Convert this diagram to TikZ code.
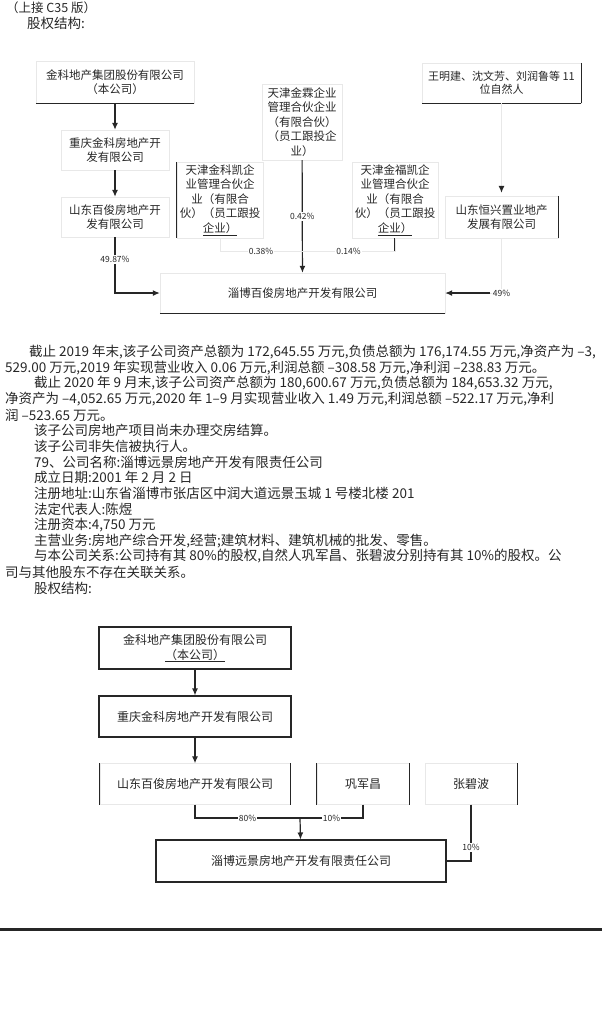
\documentclass[tikz,border=0pt]{standalone}
\usepackage{fontspec}
\setmainfont{Noto Sans CJK SC}
\usetikzlibrary{arrows.meta}
\tikzset{%
firm/.style={draw=black!9,font=\fontsize{11.5}{14.6}\selectfont,text=black!85,align=center,inner sep=0pt},
outlined/.style={firm,draw=black!85,line width=1.1pt,font=\fontsize{12}{15}\selectfont},
link/.style={draw=black!85,line width=1.2pt},
owns/.style={link,-{Latex[length=7pt,width=6pt]}},
faint/.style={draw=black!9,line width=1pt},
share/.style={font=\fontsize{8.5}{9}\selectfont,fill=white,inner sep=1pt,text=black!85},
para/.style={anchor=west,inner sep=0pt,font=\fontsize{13.5}{15.7}\selectfont,text=black!85}
}
\begin{document}
\begin{tikzpicture}[x=1pt,y=-1pt]
\useasboundingbox (0,0) rectangle (602,1021);
\clip (0,0) rectangle (602,1021);

\node[para,font=\fontsize{12.5}{14}\selectfont] (cont)   at (6,8)   {（上接 C35 版）};
\node[para]                                   (title1) at (27,23) {股权结构:};

% upper chart
\node[firm,minimum width=158pt,minimum height=42pt] (jinke)     at (115,82)    {金科地产集团股份有限公司\\（本公司）};
\node[firm,minimum width=108pt,minimum height=40pt] (chongqing) at (115,150)   {重庆金科房地产开\\发有限公司};
\node[firm,minimum width=108pt,minimum height=40pt] (baijun)    at (115,217)   {山东百俊房地产开\\发有限公司};
\node[firm,minimum width=80pt,minimum height=76pt]  (jinlin)    at (302,122)   {天津金霖企业\\管理合伙企业\\（有限合伙）\\（员工跟投企\\业）};
\node[firm,minimum width=86pt,minimum height=76pt]  (kaiL)      at (220,200)   {天津金科凯企\\业管理合伙企\\业（有限合\\伙）（员工跟投\\\underline{企业）}};
\node[firm,minimum width=86pt,minimum height=76pt]  (kaiR)      at (395,200)   {天津金福凯企\\业管理合伙企\\业（有限合\\伙）（员工跟投\\\underline{企业）}};
\node[firm,minimum width=159pt,minimum height=40pt,
      font=\fontsize{11}{13.5}\selectfont]          (people)    at (501.5,83)  {王明建、沈文芳、刘润鲁等 11\\位自然人};
\node[firm,minimum width=113pt,minimum height=42pt] (hengxing)  at (501.5,217) {山东恒兴置业地产\\发展有限公司};
\node[firm,minimum width=285pt,minimum height=40pt] (zibo)      at (302.5,293) {淄博百俊房地产开发有限公司};

\coordinate (join) at (302,251);
\coordinate (hx)   at (490,293);

% dark edges left by the scan
\foreach \b in {jinke,people,zibo}
  \draw[link] (\b.south west) -- (\b.south east);
\draw[link] (people.north east) -- (people.south east);
\draw[link] (hengxing.north east) -- (hengxing.south east);
\draw[link] (kaiL.north west) -- (kaiL.south west);
\draw[link] (kaiR.south) -- ++(0,13);

\foreach \m/\c in {jinke/chongqing,
                   chongqing/baijun}
{
  \draw[owns] (\m) -- (\c);
}
\draw[owns] (baijun) |- (zibo) node[share,pos=0.2]{49.87\%};
\draw[owns] (jinlin) -- (zibo) node[share,midway]{0.42\%};
\draw[faint] (kaiL) |- (join) node[share,pos=0.75]{0.38\%};
\draw[faint] (kaiR) |- (join) node[share,pos=0.75]{0.14\%};
\draw[faint,-{Latex[length=7pt,width=6pt,color=black!85]},shorten >=3pt] (people) -- (hengxing);
\draw[faint] (hengxing) |- (zibo);
\draw[owns] (hx) -- (zibo);
\node[share] (pct) at (hengxing.south |- zibo.east) {49\%};

% text
\foreach \x/\t [count=\i from 0] in {
  29/{截止 2019 年末,该子公司资产总额为 172,645.55 万元,负债总额为 176,174.55 万元,净资产为 –3,},
  5/{529.00 万元,2019 年实现营业收入 0.06 万元,利润总额 –308.58 万元,净利润 –238.83 万元。},
  34/{截止 2020 年 9 月末,该子公司资产总额为 180,600.67 万元,负债总额为 184,653.32 万元,},
  5/{净资产为 –4,052.65 万元,2020 年 1–9 月实现营业收入 1.49 万元,利润总额 –522.17 万元,净利},
  5/{润 –523.65 万元。},
  34/{该子公司房地产项目尚未办理交房结算。},
  34/{该子公司非失信被执行人。},
  34/{79、公司名称:淄博远景房地产开发有限责任公司},
  34/{成立日期:2001 年 2 月 2 日},
  34/{注册地址:山东省淄博市张店区中润大道远景玉城 1 号楼北楼 201},
  34/{法定代表人:陈煜},
  34/{注册资本:4,750 万元},
  34/{主营业务:房地产综合开发,经营;建筑材料、建筑机械的批发、零售。},
  34/{与本公司关系:公司持有其 80\%的股权,自然人巩军昌、张碧波分别持有其 10\%的股权。公},
  5/{司与其他股东不存在关联关系。},
  34/{股权结构:}}
  \node[para] (line\i) at (\x,352+15.73*\i) {\t};

% lower chart
\node[outlined,minimum width=192pt,minimum height=42pt] (parent)     at (195,648)   {金科地产集团股份有限公司\\\underline{（本公司）}};
\node[outlined,minimum width=192pt,minimum height=41pt] (chongqing2) at (195,716.5) {重庆金科房地产开发有限公司};
\node[firm,font=\fontsize{12}{15}\selectfont,minimum width=190pt,minimum height=41pt] (baijun2) at (195,784) {山东百俊房地产开发有限公司};
\node[firm,font=\fontsize{12}{15}\selectfont,minimum width=92pt,minimum height=41pt]  (gong)    at (363,784) {巩军昌};
\node[firm,font=\fontsize{12}{15}\selectfont,minimum width=92pt,minimum height=41pt]  (zhang)   at (471,784) {张碧波};
\node[outlined,minimum width=290pt,minimum height=42pt] (yuanjing)   at (301,861)   {淄博远景房地产开发有限责任公司};

\coordinate (fork) at (300,818);

\foreach \b in {baijun2,gong}
  \draw[link] (\b.north west) -- (\b.south west);
\foreach \b in {baijun2,gong,zhang}
  \draw[link] (\b.north east) -- (\b.south east);

\foreach \m/\c in {parent/chongqing2,
                   chongqing2/baijun2,
                   fork/yuanjing}
{
  \draw[owns] (\m) -- (\c);
}
\draw[link] (baijun2) |- (fork) node[share,pos=0.75]{80\%};
\draw[link] (gong)    |- (fork) node[share,pos=0.75]{10\%};
\draw[link] (zhang)   |- (yuanjing) node[share,pos=0.38]{10\%};

\draw[line width=3pt,black!85] (0,929) -- (602,929);
\end{tikzpicture}
\end{document}
